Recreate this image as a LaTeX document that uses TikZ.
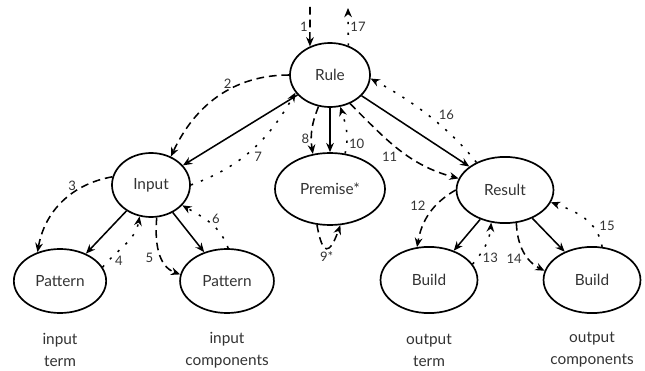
\documentclass[tikz,border=0pt]{standalone}
\usepackage{fontspec}
\setmainfont{Lato}
\usetikzlibrary{arrows.meta,shapes.geometric}
\definecolor{ink}{HTML}{333333}
\tikzset{every node/.style={font=\fontsize{10}{14.3}\selectfont,text=ink},
 state/.style={ellipse,draw=black,line width=1.1pt,inner sep=0pt},
 flow/.style={-{Stealth[length=6pt,width=5pt]},draw=black,line width=1pt},
 call/.style={flow,dash pattern=on 5pt off 3.2pt},
 back/.style={flow,dash pattern=on 1.5pt off 5.5pt},
 num/.style={font=\fontsize{8.5}{9.5}\selectfont,inner sep=1pt},
 role/.style={align=center}}

\begin{document}
\begin{tikzpicture}[x=.65pt,y=.65pt]

\useasboundingbox (0,0) rectangle (645,370);
% nodes
\node[state,minimum width=52pt,minimum height=41.6pt] (rule) at (330,295) {Rule};
\node[state,minimum width=50.7pt,minimum height=41.6pt] (inp) at (151,185) {Input};
\node[state,minimum width=71.5pt,minimum height=46.8pt] (prem) at (330,181) {Premise*};
\node[state,minimum width=63pt,minimum height=43pt] (res) at (505,180) {Result};
\node[state,minimum width=60pt,minimum height=41.6pt] (patl) at (60,89) {Pattern};
\node[state,minimum width=61pt,minimum height=41.6pt] (patr) at (227,89) {Pattern};
\node[state,minimum width=63pt,minimum height=43pt] (bldl) at (429,90) {Build};
\node[state,minimum width=63pt,minimum height=43pt] (bldr) at (592,90) {Build};
\node[role] (tl) at (60,20) {input\\term};
\node[role] (tr) at (227,20) {input\\components};
\node[role] (ol) at (429,20) {output\\term};
\node[role] (or) at (592,20) {output\\components};
\coordinate (entry) at (310,363);
\coordinate (exit) at (348,362);

% structure
\draw[flow] (rule) -- (inp);
\draw[flow] (rule) -- (prem);
\draw[flow] (rule) -- (res);
\draw[flow] (inp) -- (patl);
\draw[flow] (inp) -- (patr);
\draw[flow] (res) -- (bldl);
\draw[flow] (res) -- (bldr);

% evaluation order
\draw[call] (entry) -- node[num,left] {1} (rule.125);
\draw[call] (rule.west) to[out=180,in=65] node[num,pos=.42,above] {2} (inp.55);
\draw[call] (inp.168) to[out=190,in=80] node[num,pos=.38,above] {3} (patl.128);
\draw[back] (patl.18) to[out=50,in=-100] node[num,pos=.12,right=3pt] {4} (inp.250);
\draw[call] (inp.280) to[out=-95,in=160] node[num,pos=.6,left=4pt] {5} (patr.172);
\draw[back] (patr.88) to[out=110,in=-30] node[num,pos=.6,right=3pt] {6} (inp.-33);
\draw[back] (inp.east) to[out=20,in=-120] node[num,pos=.5,below right] {7} (rule.207);
\draw[call] (rule.-110) to[out=-112,in=99] node[num,pos=.7,left] {8} (prem.116);
\draw[call] (prem.-110) to[out=-80,in=-110,looseness=3.5] node[num,pos=.5,below=1pt] {9*} (prem.-74);
\draw[back] (prem.67) to[out=76,in=-73] node[num,pos=.2,right] {10} (rule.-72);
\draw[call] (rule.-55) to[out=-45,in=165] node[num,pos=.4,below=5pt] {11} (res.166);
\draw[call] (res.west) to[out=210,in=80] node[num,pos=.35,left=5pt] {12} (bldl.110);
\draw[back] (bldl.20) to[out=50,in=-95] node[num,pos=.15,right=2pt] {13} (res.-113);
\draw[call] (res.-71) to[out=-88,in=153] node[num,pos=.66,left=3pt] {14} (bldr.169);
\draw[back] (bldr.73) to[out=100,in=-20] node[num,pos=.33,right=3pt] {15} (res.-15);
\draw[back] (res.136) to[out=128,in=-28,looseness=.85] node[num,pos=.42,above right] {16} (rule.-5);
\draw[back] (rule.58) -- node[num,right] {17} (exit);

\end{tikzpicture}
\end{document}
